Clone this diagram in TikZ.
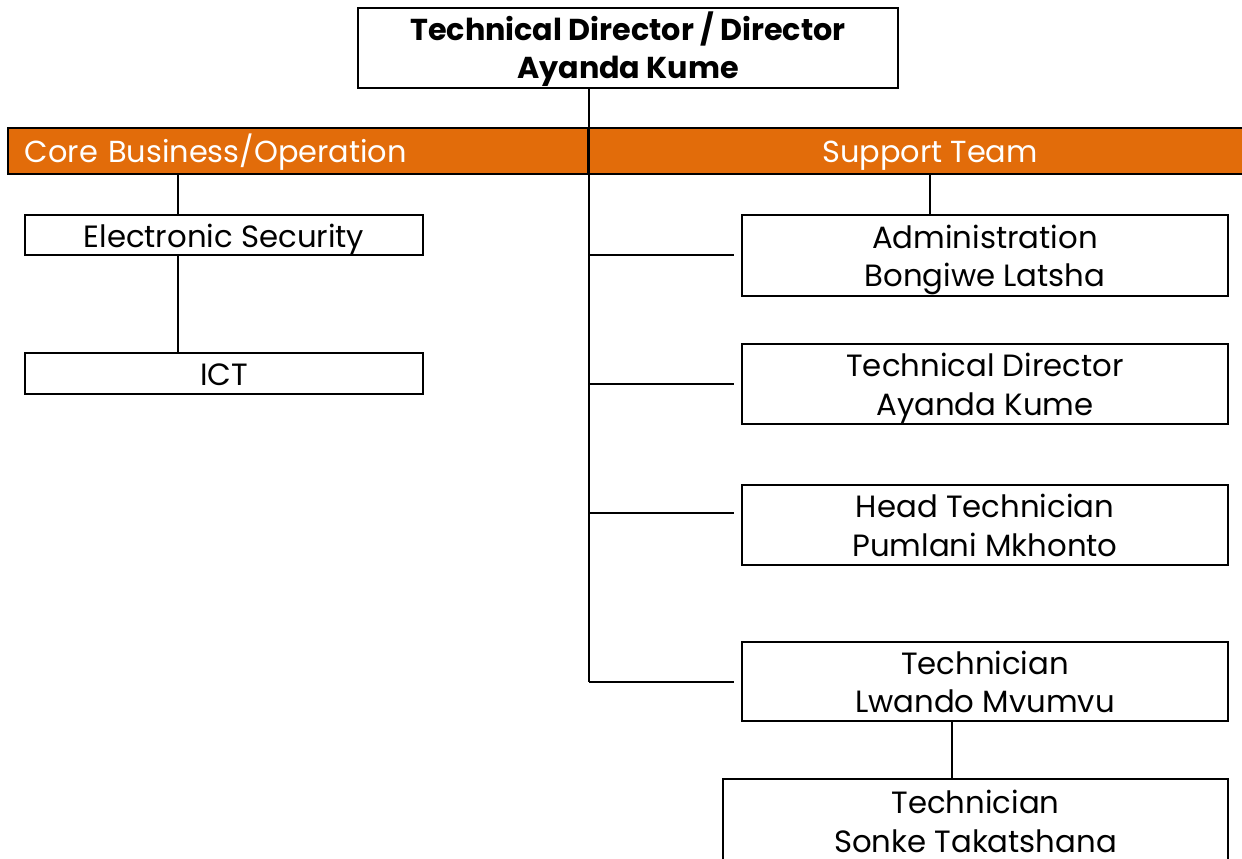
\documentclass[tikz,border=0pt]{standalone}
\usepackage{fontspec}
\setmainfont{Poppins}
\usepackage{tikz}
\usetikzlibrary{positioning}
\definecolor{bandorange}{RGB}{226,108,10}
\newcommand{\boxlines}[3][18.3pt]{\rule{0pt}{#1}#2\\#3\rule[-4.5pt]{0pt}{0pt}}

\begin{document}
\begin{tikzpicture}[x = 0.2mm, y = -0.2mm, line width = 0.4mm,
  box/.style = {rectangle, draw, inner sep = 0pt, minimum width = 97.2mm, minimum height = 16mm, align = center, font = \fontsize{17.5}{22}\selectfont},
  onebox/.style = {box, minimum width = 79.6mm, minimum height = 8mm, text height = 18.3pt, text depth = 4.5pt},
  band/.style = {rectangle, draw, fill = bandorange, text = white, inner sep = 0pt, minimum height = 9.2mm, text height = 16.5pt, text depth = 3pt, font = \fontsize{17.3}{20}\selectfont}]
  \useasboundingbox (0,0) rectangle (1242,859);
  % nodes
  \node [box, minimum width = 108mm, font = \bfseries\fontsize{17.2}{22}\selectfont] (director) at (628,48) {\boxlines[17.5pt]{Technical Director / Director}{Ayanda Kume}};

  \node [band, minimum width = 116mm, text width = 109.2mm, align = left, inner xsep = 3.4mm] (core) at (298,151) {Core Business/Operation};
  \node [band, minimum width = 136.8mm, align = center] (support) at (930,151) {Support Team};

  \node [onebox] (security) at (224,235) {Electronic Security};
  \node [onebox, minimum height = 8.2mm] (ict) at (224,373.5) {ICT};

  \node [box, minimum height = 16.2mm] (admin) at (985,255.5) {\boxlines{Administration}{Bongiwe Latsha}};
  \node [box] (techdir) at (985,384) {\boxlines{Technical Director}{Ayanda Kume}};
  \node [box] (head) at (985,525) {\boxlines{Head Technician}{Pumlani Mkhonto}};
  \node [box, minimum height = 15.8mm] (lwando) at (985,681.5) {\boxlines{Technician}{Lwando Mvumvu}};
  \node [box, minimum width = 101mm, minimum height = 16.8mm] (sonke) at (975.5,821) {\boxlines{Technician}{Sonke Takatshana}};

  \coordinate (trunk) at (core.east |- director.south);
  \coordinate (securityin) at ([xshift = -9.2mm]security.north);
  \coordinate (securityout) at ([xshift = -9.2mm]security.south);
  \coordinate (lwandoout) at ([xshift = -6.6mm]lwando.south);

  % edges
  \draw (trunk) -- (core.east |- lwando.west);
  \draw (core.south -| securityin) -- (securityin);
  \draw (securityout) -- (ict.north -| securityout);
  \draw (support.south) -- (support.south |- admin.north);

  \draw (core.east |- admin.west) -- ([xshift = -1.4mm]admin.west);
  \draw (core.east |- techdir.west) -- ([xshift = -1.4mm]techdir.west);
  \draw ([yshift = 2.4mm]core.east |- head.west) -- ([xshift = -1.4mm, yshift = 2.4mm]head.west);
  \draw (core.east |- lwando.west) -- ([xshift = -1.4mm]lwando.west);

  \draw (lwandoout) -- (sonke.north -| lwandoout);
\end{tikzpicture}
\end{document}
